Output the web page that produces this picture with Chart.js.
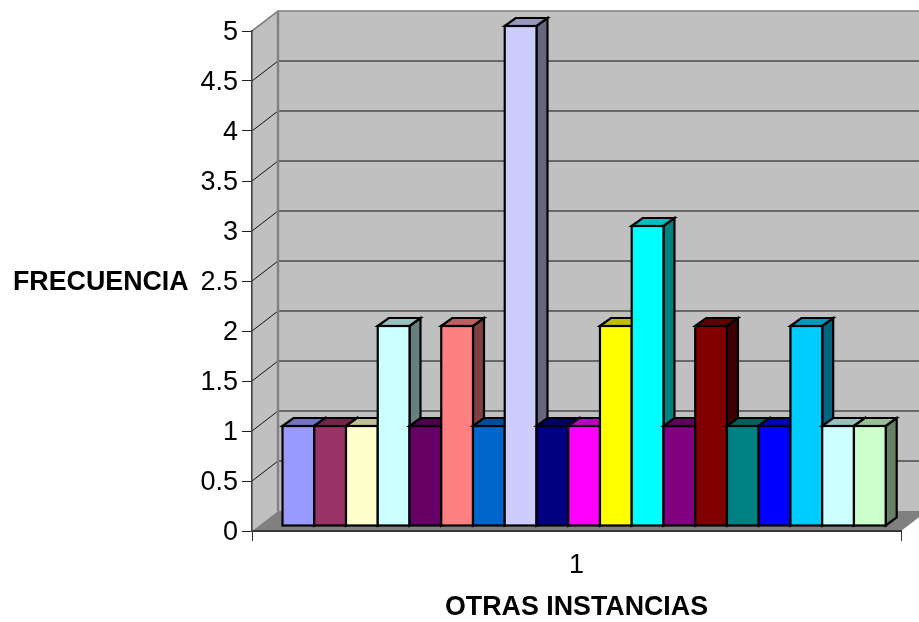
<!DOCTYPE html>
<html>
<head>
<meta charset="utf-8">
<style>html,body{margin:0;padding:0;background:#fff}#wrap{width:919px;height:622px}</style>
<script src="https://cdn.jsdelivr.net/npm/chart.js@4"></script>
</head>
<body>
<div id="wrap"><canvas id="c" width="919" height="622"></canvas></div>
<script>
const categories = ['1'];
const values = [1, 1, 1, 2, 1, 2, 1, 5, 1, 1, 2, 3, 1, 2, 1, 1, 2, 1, 1];
const colors = ['#9999FF', '#993366', '#FFFFCC', '#CCFFFF', '#660066', '#FF8080', '#0066CC', '#CCCCFF', '#000080', '#FF00FF', '#FFFF00', '#00FFFF', '#800080', '#800000', '#008080', '#0000FF', '#00CCFF', '#CCFFFF', '#CCFFCC'];
const yTitle = 'FRECUENCIA';
const xTitle = 'OTRAS INSTANCIAS';

const FONT = '"Liberation Sans", Arial, sans-serif';
const WALL = {dx: 26, dy: -20};
const BAR = {dx: 11, dy: -8, shiftX: 7.6, shiftY: -5};

function shade(hex, f) {
  const n = parseInt(hex.slice(1), 16);
  const c = [(n >> 16) & 255, (n >> 8) & 255, n & 255].map(v => Math.round(v * f));
  return `rgb(${c[0]},${c[1]},${c[2]})`;
}
function poly(ctx, pts, fill, stroke, lw) {
  ctx.beginPath();
  pts.forEach((p, i) => i ? ctx.lineTo(p[0], p[1]) : ctx.moveTo(p[0], p[1]));
  ctx.closePath();
  if (fill) { ctx.fillStyle = fill; ctx.fill(); }
  if (stroke) { ctx.strokeStyle = stroke; ctx.lineWidth = lw; ctx.lineJoin = 'miter'; ctx.stroke(); }
}

const box3d = {
  id: 'box3d',
  beforeDraw(chart) {
    const {ctx, chartArea: a, scales: {y}} = chart;
    const d = WALL;
    ctx.save();
    ctx.fillStyle = '#fff';
    ctx.fillRect(0, 0, chart.width, chart.height);
    poly(ctx, [[a.left, a.top], [a.left + d.dx, a.top + d.dy], [a.left + d.dx, a.bottom + d.dy], [a.left, a.bottom]], '#C0C0C0');
    poly(ctx, [[a.left + d.dx, a.top + d.dy], [a.right + d.dx, a.top + d.dy], [a.right + d.dx, a.bottom + d.dy], [a.left + d.dx, a.bottom + d.dy]], '#C0C0C0');
    y.ticks.forEach(t => {
      if (t.value === 0 || t.value === y.max) return;
      const py = y.getPixelForValue(t.value);
      ctx.strokeStyle = '#4a4a4a'; ctx.lineWidth = 1.3;
      ctx.beginPath(); ctx.moveTo(a.left + d.dx, py + d.dy); ctx.lineTo(a.right + d.dx, py + d.dy); ctx.stroke();
      ctx.strokeStyle = '#111'; ctx.lineWidth = 1;
      ctx.beginPath(); ctx.moveTo(a.left, py); ctx.lineTo(a.left + d.dx, py + d.dy); ctx.stroke();
    });
    ctx.strokeStyle = '#808080'; ctx.lineWidth = 2.4;
    ctx.beginPath(); ctx.moveTo(a.left + d.dx, a.top + d.dy); ctx.lineTo(a.left + d.dx, a.bottom + d.dy); ctx.stroke();
    ctx.lineWidth = 1.6;
    ctx.beginPath(); ctx.moveTo(a.left, a.top); ctx.lineTo(a.left + d.dx, a.top + d.dy); ctx.lineTo(a.right + d.dx, a.top + d.dy); ctx.stroke();
    poly(ctx, [[a.left, a.bottom], [a.left + d.dx, a.bottom + d.dy], [a.right + d.dx, a.bottom + d.dy], [a.right, a.bottom]], '#808080');
    ctx.font = 'bold 26.8px ' + FONT;
    ctx.fillStyle = '#000';
    ctx.textAlign = 'left';
    ctx.textBaseline = 'alphabetic';
    ctx.fillText(yTitle, 13, 290);
    ctx.restore();
  },
  beforeDatasetsDraw(chart) {
    const {ctx} = chart;
    ctx.save();
    ctx.translate(BAR.shiftX, BAR.shiftY);
    chart.data.datasets.forEach((ds, i) => {
      chart.getDatasetMeta(i).data.forEach(el => {
        const l = el.x - el.width / 2, r = el.x + el.width / 2, t = el.y, b = el.base;
        const {dx, dy} = BAR;
        poly(ctx, [[r, t], [r + dx, t + dy], [r + dx, b + dy], [r, b]], shade(ds.backgroundColor, 0.5), '#000', 2.2);
        poly(ctx, [[l, t], [l + dx, t + dy], [r + dx, t + dy], [r, t]], shade(ds.backgroundColor, 0.75), '#000', 2.2);
        el.draw(ctx);
        ctx.strokeStyle = '#000'; ctx.lineWidth = 2.2; ctx.lineJoin = 'miter';
        ctx.strokeRect(l, t, r - l, b - t);
      });
    });
    ctx.restore();
    return false;
  }
};

new Chart(document.getElementById('c'), {
  type: 'bar',
  data: {
    labels: categories,
    datasets: values.map((v, i) => ({
      label: 'Serie ' + (i + 1),
      data: [v],
      backgroundColor: colors[i],
      borderWidth: 0,
      clip: false,
      barPercentage: 1,
      categoryPercentage: 0.9294
    }))
  },
  plugins: [box3d],
  options: {
    responsive: false,
    animation: false,
    layout: {padding: {left: 0, right: 18, top: 31, bottom: 0}},
    plugins: {legend: {display: false}, title: {display: false}, tooltip: {enabled: false}},
    scales: {
      x: {
        afterFit(s) { s.height = 91; },
        grid: {drawOnChartArea: false, drawTicks: true, tickLength: 10, color: '#333', lineWidth: 1},
        border: {color: '#383838', width: 2},
        ticks: {color: '#000', font: {family: FONT, size: 27}, padding: 8, maxRotation: 0},
        title: {display: true, text: xTitle, color: '#000', font: {family: FONT, size: 26.8, weight: 'bold'}, padding: {top: 8, bottom: -2}}
      },
      y: {
        min: 0, max: 5,
        afterFit(s) { s.width = 252; },
        grid: {drawOnChartArea: false, drawTicks: true, tickLength: 10, color: '#222', lineWidth: 1},
        border: {color: '#404040', width: 1.6},
        ticks: {stepSize: 0.5, color: '#000', font: {family: FONT, size: 27}, padding: 4, labelOffset: 1.5, callback: v => String(v)}
      }
    }
  }
});
</script>
</body>
</html>
